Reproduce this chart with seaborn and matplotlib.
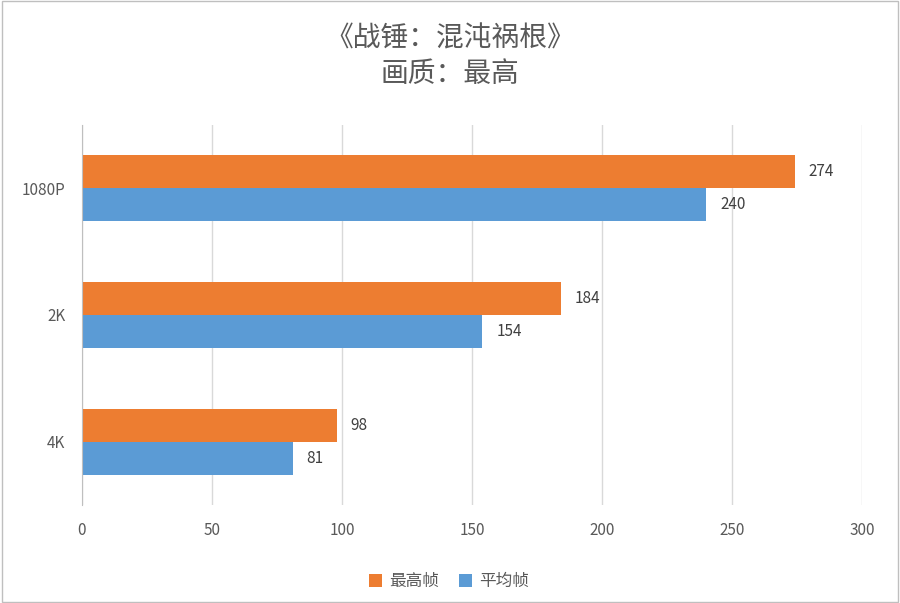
import matplotlib
matplotlib.use("Agg")
import matplotlib.pyplot as plt
import seaborn as sns
import pandas as pd

categories = ["1080P", "2K", "4K"]
max_fps = [274, 184, 98]
avg_fps = [240, 154, 81]
series = ["最高帧", "平均帧"]

df = pd.DataFrame({
    "cat": categories * 2,
    "val": max_fps + avg_fps,
    "s": [series[0]] * 3 + [series[1]] * 3,
})

plt.rcParams["font.family"] = "Noto Sans CJK SC"
fig = plt.figure(figsize=(9, 6.03), dpi=100)
ax = fig.add_axes([0.0911, 0.1625, 0.8669, 0.6305])
sns.barplot(data=df, y="cat", x="val", hue="s", orient="h", saturation=1,
            palette=["#ED7D31", "#5B9BD5"], width=0.52, ax=ax, legend=True)
for c in ax.containers:
    ax.bar_label(c, padding=10, fontsize=11, color="#404040")
ax.set_xlim(0, 300)
ax.set_ylim(2.5, -0.5)
ax.set_xticks(range(0, 301, 50))
ax.grid(axis="x", color="#D9D9D9", lw=1)
ax.set_axisbelow(True)
for s in ["top", "right", "bottom"]:
    ax.spines[s].set_visible(False)
ax.spines["left"].set_color("#BFBFBF")
ax.tick_params(length=0, labelsize=11, colors="#595959", pad=12)
ax.set_xlabel(""); ax.set_ylabel("")
ax.legend(loc="upper center", bbox_to_anchor=(0.47, -0.14), ncol=2, frameon=False,
          fontsize=12, handlelength=0.8, handleheight=0.8, columnspacing=1.2,
          handletextpad=0.4, labelcolor="#595959")
fig.text(0.5, 0.907, "《战锤：混沌祸根》\n画质：最高", ha="center", va="center",
         fontsize=20, color="#595959", linespacing=1.25)
fig.patches.append(plt.Rectangle((0.002, 0.002), 0.996, 0.996, transform=fig.transFigure,
                                 fill=False, ec="#BFBFBF", lw=1))
fig.savefig("out.png", dpi=100)
